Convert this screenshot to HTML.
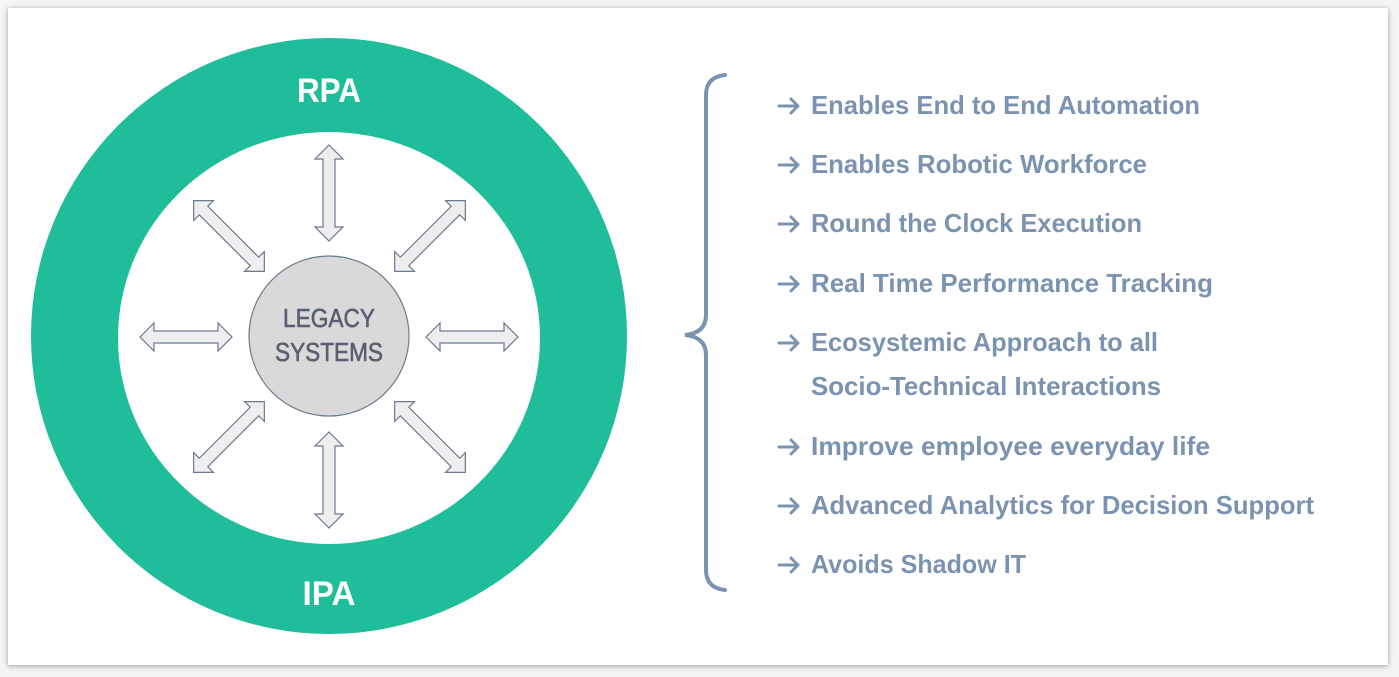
<!DOCTYPE html>
<html><head><meta charset="utf-8"><style>
html,body{margin:0;padding:0;background:#f4f4f4;width:1399px;height:677px;overflow:hidden}
.card{position:absolute;left:8px;top:8px;width:1380px;height:657px;background:#fff;box-shadow:0 1px 5px rgba(0,0,0,0.35)}
svg{position:absolute;left:0;top:0}
</style></head><body>
<div class="card"></div>
<svg width="1399" height="677" viewBox="0 0 1399 677" font-family="Liberation Sans, sans-serif">
<defs>
<path id="ar" d="M0,0 H19 M12,-7 L19,0 L12,7" fill="none" stroke="#7b93b0" stroke-width="3" stroke-linecap="round" stroke-linejoin="round"/>
</defs>
<circle cx="329" cy="336" r="298" fill="#1fbd9a"/>
<ellipse cx="329" cy="338" rx="211" ry="206" fill="#fff"/>
<text x="329" y="102" text-anchor="middle" font-size="34" font-weight="bold" fill="#fff" textLength="64" lengthAdjust="spacingAndGlyphs">RPA</text>
<text x="329" y="605" text-anchor="middle" font-size="34" font-weight="bold" fill="#fff" textLength="53" lengthAdjust="spacingAndGlyphs">IPA</text>
<circle cx="329" cy="336" r="80" fill="#d9d9d9" stroke="#6b7a8d" stroke-width="1.2"/>
<g fill="#56606f" stroke="#56606f" stroke-width="0.6">
<text x="329" y="327" text-anchor="middle" font-size="26" textLength="92" lengthAdjust="spacingAndGlyphs">LEGACY</text>
<text x="329" y="361" text-anchor="middle" font-size="26" textLength="108" lengthAdjust="spacingAndGlyphs">SYSTEMS</text>
</g>
<g fill="#eeeeee" stroke="#6b7a8d" stroke-width="1.2" stroke-linejoin="miter">
<g transform="translate(186,337)"><polygon points="-46,0 -32,-14 -32,-6 32,-6 32,-14 46,0 32,14 32,6 -32,6 -32,14"/></g>
<g transform="translate(472,337)"><polygon points="-46,0 -32,-14 -32,-6 32,-6 32,-14 46,0 32,14 32,6 -32,6 -32,14"/></g>
<g transform="translate(329,193) rotate(90)"><polygon points="-48,0 -34,-14 -34,-6 34,-6 34,-14 48,0 34,14 34,6 -34,6 -34,14"/></g>
<g transform="translate(329,480) rotate(90)"><polygon points="-48,0 -34,-14 -34,-6 34,-6 34,-14 48,0 34,14 34,6 -34,6 -34,14"/></g>
<g transform="translate(229,236) rotate(45)"><polygon points="-50,0 -36,-14 -36,-6 36,-6 36,-14 50,0 36,14 36,6 -36,6 -36,14"/></g>
<g transform="translate(430,236) rotate(-45)"><polygon points="-50,0 -36,-14 -36,-6 36,-6 36,-14 50,0 36,14 36,6 -36,6 -36,14"/></g>
<g transform="translate(229,437) rotate(-45)"><polygon points="-50,0 -36,-14 -36,-6 36,-6 36,-14 50,0 36,14 36,6 -36,6 -36,14"/></g>
<g transform="translate(430,437) rotate(45)"><polygon points="-50,0 -36,-14 -36,-6 36,-6 36,-14 50,0 36,14 36,6 -36,6 -36,14"/></g>
</g>
<path d="M725,75 Q706,77 706,95 L706,315 Q706,333 685,335 Q706,337 706,355 L706,570 Q706,588 725,590" fill="none" stroke="#7b93b0" stroke-width="4" stroke-linecap="round"/>
<use href="#ar" x="779" y="106"/><use href="#ar" x="779" y="165"/><use href="#ar" x="779" y="224"/><use href="#ar" x="779" y="284"/><use href="#ar" x="779" y="343"/><use href="#ar" x="779" y="447"/><use href="#ar" x="779" y="506"/><use href="#ar" x="779" y="565"/>
<g font-size="26" font-weight="bold" fill="#7b93b0">
<text x="811" y="114" textLength="389" lengthAdjust="spacingAndGlyphs">Enables End to End Automation</text>
<text x="811" y="173" textLength="336" lengthAdjust="spacingAndGlyphs">Enables Robotic Workforce</text>
<text x="811" y="232" textLength="331" lengthAdjust="spacingAndGlyphs">Round the Clock Execution</text>
<text x="811" y="292" textLength="402" lengthAdjust="spacingAndGlyphs">Real Time Performance Tracking</text>
<text x="811" y="351" textLength="347" lengthAdjust="spacingAndGlyphs">Ecosystemic Approach to all</text>
<text x="811" y="395" textLength="350" lengthAdjust="spacingAndGlyphs">Socio-Technical Interactions</text>
<text x="811" y="455" textLength="399" lengthAdjust="spacingAndGlyphs">Improve employee everyday life</text>
<text x="811" y="514" textLength="503" lengthAdjust="spacingAndGlyphs">Advanced Analytics for Decision Support</text>
<text x="811" y="573" textLength="215" lengthAdjust="spacingAndGlyphs">Avoids Shadow IT</text>
</g>
</svg>
</body></html>
